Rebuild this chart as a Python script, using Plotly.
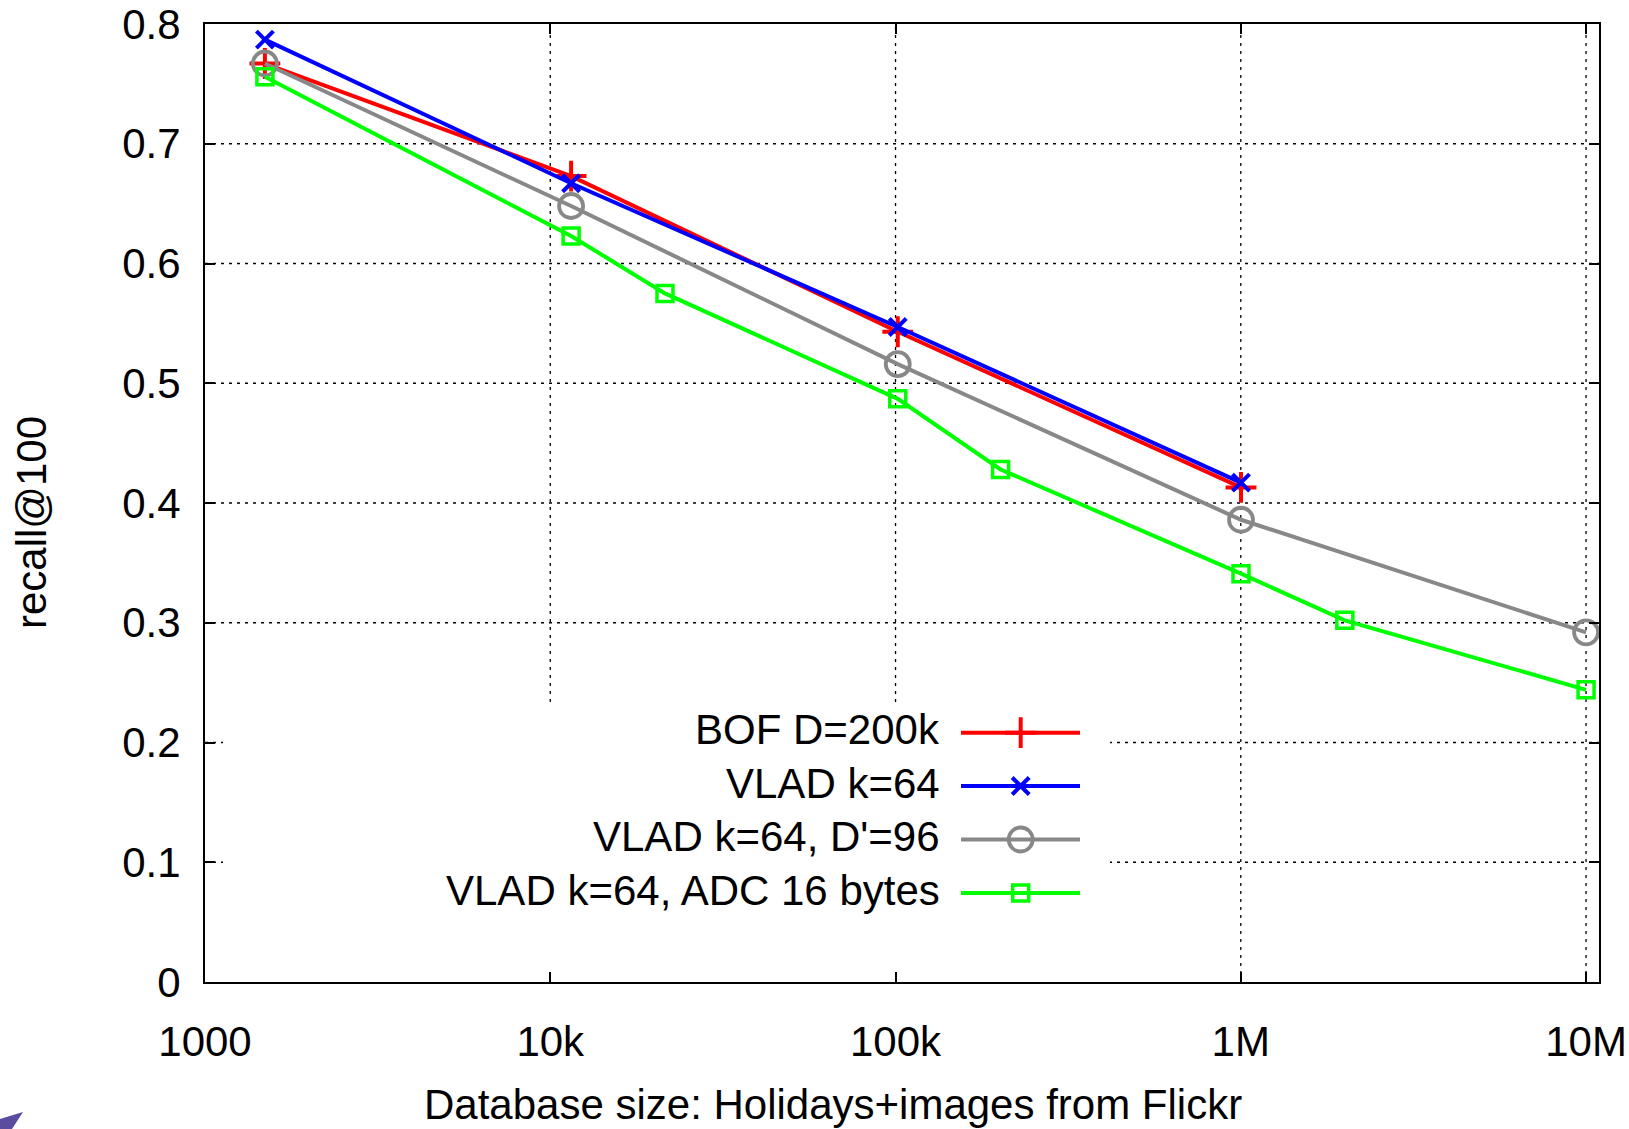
import plotly.graph_objects as go

# ---------------- data ----------------
x_ticks = [1e3, 1e4, 1e5, 1e6, 1e7]
x_tick_labels = ["1000", "10k", "100k", "1M", "10M"]
y_ticks = [0, 0.1, 0.2, 0.3, 0.4, 0.5, 0.6, 0.7, 0.8]
y_tick_labels = ["0", "0.1", "0.2", "0.3", "0.4", "0.5", "0.6", "0.7", "0.8"]

bof_x = [1491, 11491, 101491, 1001491]
bof_y = [0.767, 0.673, 0.543, 0.413]

vlad_x = [1491, 11491, 101491, 1001491]
vlad_y = [0.787, 0.667, 0.547, 0.417]

pca_x = [1491, 11491, 101491, 1001491, 10001491]
pca_y = [0.767, 0.648, 0.516, 0.386, 0.292]

adc_x = [1491, 11491, 21491, 101491, 201491, 1001491, 2001491, 10001491]
adc_y = [0.756, 0.623, 0.575, 0.487, 0.428, 0.341, 0.302, 0.244]

names = ["BOF D=200k", "VLAD k=64", "VLAD k=64, D'=96", "VLAD k=64, ADC 16 bytes"]
colors = ["#ff0000", "#0000ff", "#888888", "#00ff00"]

# ---------------- layout geometry ----------------
W, H = 1629, 1129
ML, MR, MT, MB = 205, 30, 24, 147
PW, PH = W - ML - MR, H - MT - MB
FONT = "Liberation Sans, Arial, sans-serif"
FS = 42
XR = [3, 7.0375]
YR = [0, 0.8]
LW = 4


def px(x):
    return (x - ML) / PW


def py(y):
    return (H - MB - y) / PH


def fx_data(f):
    return 10 ** (XR[0] + f * (XR[1] - XR[0]))


def fy_data(f):
    return YR[0] + f * (YR[1] - YR[0])


fig = go.Figure()

series = [
    (bof_x, bof_y, dict(symbol="cross-thin", size=22, line=dict(width=4, color=colors[0]), color=colors[0])),
    (vlad_x, vlad_y, dict(symbol="x-thin", size=17, line=dict(width=4, color=colors[1]), color=colors[1])),
    (pca_x, pca_y, dict(symbol="circle-open", size=24, line=dict(width=3.8, color=colors[2]), color=colors[2])),
    (adc_x, adc_y, dict(symbol="square-open", size=16, line=dict(width=3.5, color=colors[3]), color=colors[3])),
]

for (xs, ys, mk), name, col in zip(series, names, colors):
    fig.add_trace(go.Scatter(x=xs, y=ys, mode="lines+markers", name=name,
                             line=dict(color=col, width=LW), marker=mk,
                             showlegend=False, cliponaxis=False))

shapes = []
grid_line = dict(color="black", width=1.3, dash="3px,5px")
# dotted grid (drawn as shapes so the key box can mask it)
for xv in x_ticks[1:]:
    shapes.append(dict(type="line", xref="x", yref="y domain", x0=xv, x1=xv, y0=0, y1=1,
                       line=grid_line, layer="below"))
for yv in y_ticks[1:-1]:
    shapes.append(dict(type="line", xref="x domain", yref="y", x0=0, x1=1, y0=yv, y1=yv,
                       line=grid_line, layer="below"))
# white key box masking the grid
shapes.append(dict(type="rect", xref="x domain", yref="y domain", x0=px(223), x1=px(1110),
                   y0=0, y1=py(706), fillcolor="white", line=dict(width=0), layer="below"))
# corner logo fragment
shapes.append(dict(type="path", xref="paper", yref="paper", fillcolor="#5b4c9e", line=dict(width=0),
                   path="M {} {} L {} {} L {} {} L {} {} Z".format(px(0), py(1119), px(23), py(1112),
                                                                 px(12), py(1129), px(0), py(1129))))

# ---------------- manual gnuplot-style key ----------------
row_y = [732.7, 786, 839.5, 893]
text_right = 942
samp_x0, samp_x1, samp_xm = 961, 1080, 1020.7

annotations = []
for i, ((xs, ys, mk), name, col) in enumerate(zip(series, names, colors)):
    yy = py(row_y[i])
    annotations.append(dict(text=name, xref="paper", yref="paper", x=px(text_right), y=yy + 0.003,
                            xanchor="right", yanchor="middle", showarrow=False,
                            font=dict(family=FONT, size=FS, color="black")))
    fig.add_trace(go.Scatter(x=[fx_data(px(samp_x0)), fx_data(px(samp_x1))], y=[fy_data(yy)] * 2,
                             mode="lines", line=dict(color=col, width=LW),
                             showlegend=False, cliponaxis=False, hoverinfo="skip"))
    fig.add_trace(go.Scatter(x=[fx_data(px(samp_xm))], y=[fy_data(yy)], mode="markers", marker=mk,
                             showlegend=False, cliponaxis=False, hoverinfo="skip"))

# axis titles
annotations.append(dict(text="Database size: Holidays+images from Flickr", xref="paper", yref="paper",
                        x=px(833), y=py(1104), xanchor="center", yanchor="middle", showarrow=False,
                        font=dict(family=FONT, size=FS, color="black")))
annotations.append(dict(text="recall@100", xref="paper", yref="paper", textangle=-90,
                        x=px(31), y=py(523), xanchor="center", yanchor="middle", showarrow=False,
                        font=dict(family=FONT, size=FS, color="black")))

axis_common = dict(showline=True, linecolor="black", linewidth=2, mirror="ticks",
                   ticks="inside", ticklen=10, tickwidth=1.5, tickcolor="black",
                   showgrid=False, zeroline=False, automargin=False,
                   tickfont=dict(family=FONT, size=FS, color="black"))

fig.update_layout(
    width=W, height=H,
    margin=dict(l=ML, r=MR, t=MT, b=MB, pad=0),
    paper_bgcolor="white", plot_bgcolor="white",
    font=dict(family=FONT, size=FS, color="black"),
    xaxis=dict(type="log", range=XR, tickvals=x_ticks, ticktext=x_tick_labels,
               ticklabelstandoff=22, **axis_common),
    yaxis=dict(range=YR, tickvals=y_ticks, ticktext=y_tick_labels,
               ticklabelstandoff=14, **axis_common),
    shapes=shapes, annotations=annotations,
    showlegend=False,
)

fig.write_html("out.html", config={"displayModeBar": False},
               post_script="document.body.style.margin='0';document.body.style.overflow='hidden';")
